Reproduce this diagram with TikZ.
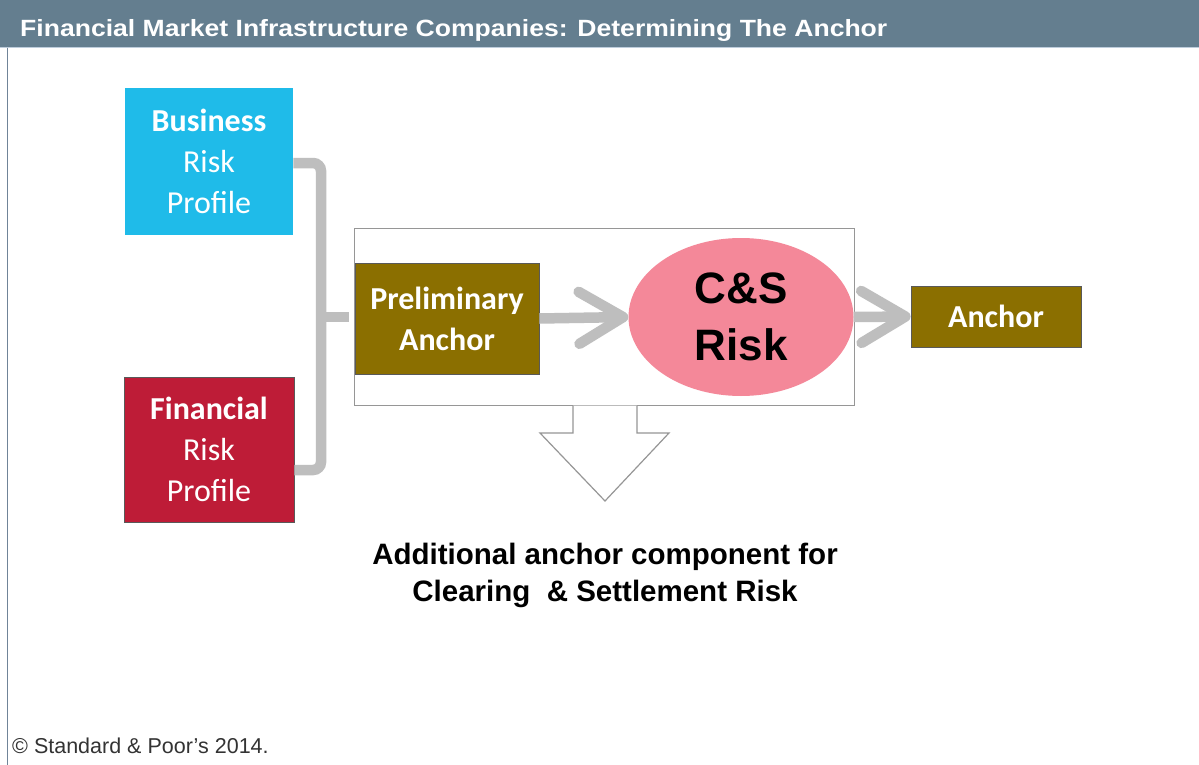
\documentclass[tikz,border=0pt]{standalone}
\usepackage{fontspec}
\setmainfont{Liberation Sans}
\newfontfamily\calib{Carlito}
\newfontfamily\titlefont[FakeStretch=1.13]{Liberation Sans}
\usetikzlibrary{shapes.geometric,arrows.meta}
\definecolor{hdr}{RGB}{100,126,143}
\definecolor{hdrline}{RGB}{190,205,220}
\definecolor{bizc}{RGB}{31,187,233}
\definecolor{finc}{RGB}{190,28,55}
\definecolor{olive}{RGB}{139,111,0}
\definecolor{pinkc}{RGB}{244,136,153}
\definecolor{arrg}{RGB}{190,190,190}
\definecolor{framec}{RGB}{150,150,150}
\definecolor{sidec}{RGB}{112,132,152}
\tikzset{
  box/.style={rectangle, inner sep=0pt, draw=black!65, line width=0.8pt, text=white, align=center,
    font=\calib\fontsize{32}{41}\selectfont},
  flow/.style={draw=arrg, line width=10.5pt, -{Straight Barb[length=44pt,width=52pt,round]}},
  brack/.style={draw=arrg, line width=10.5pt, rounded corners=8pt},
  captext/.style={font=\fontsize{29.5}{37}\selectfont\bfseries, align=center, text=black},
}
\begin{document}
\begin{tikzpicture}[x=1pt,y=-1pt]
\useasboundingbox (0,0) rectangle (1199,765);
\fill[white] (0,0) rectangle (1199,765);
% header
\fill[hdr] (0,0) rectangle (1199,47);
\draw[hdrline, line width=1.2pt] (0,47.5) -- (1199,47.5);
\node[anchor=base west, text=white, font=\titlefont\fontsize{23.5}{28}\selectfont\bfseries, inner sep=0pt] (title) at (20,37) {Financial Market Infrastructure Companies: Determining The Anchor};
\draw[sidec, line width=1.5pt] (7.5,48) -- (7.5,765);
% boxes
\node[box, fill=bizc, minimum width=168pt, minimum height=147pt, draw=none] (biz) at (209,161.5) {\textbf{Business}\\Risk\\Profile};
\node[box, fill=finc, minimum width=170pt, minimum height=145pt] (fin) at (209,449.5) {\textbf{Financial}\\Risk\\Profile};
\node[rectangle, draw=framec, line width=1.2pt, minimum width=500pt, minimum height=177pt, inner sep=0pt] (frame) at (604.5,317) {};
\node[box, fill=olive, minimum width=184pt, minimum height=111pt] (pre) at (447,318.5) {\textbf{Preliminary}\\\textbf{Anchor}};
\node[ellipse, fill=pinkc, minimum width=225pt, minimum height=158pt, inner sep=0pt, align=center,
  font=\fontsize{44}{57}\selectfont\bfseries] (cs) at (741,317) {C\&S\\Risk};
\node[box, fill=olive, minimum width=170pt, minimum height=61pt] (anc) at (996,316.5) {\textbf{Anchor}};
% bracket
\coordinate (bj) at (321,317);
\draw[brack] ([yshift=-1.5pt]biz.east) -- (321,163) -- (321,470) -- ([yshift=-20.5pt]fin.east);
\draw[draw=arrg, line width=10.5pt, shorten >=6pt] (bj) -- (bj-|pre.west);
% flow arrows
\draw[flow] (pre.east) -- (cs.west);
\draw[flow] (cs.east) -- (anc.west);
% down block arrow
\draw[framec, line width=1.2pt, fill=white, line join=miter]
  (573,405.5) -- (573,433) -- (540,433) -- (605,501) -- (669,433) -- (637,433) -- (637,405.5);
% caption
\node[captext] (capt) at (605,575) {Additional anchor component for\\Clearing\ \ \& Settlement Risk};
% copyright
\node[anchor=west, inner sep=0pt, text=black!80, font=\fontsize{21.5}{25}\selectfont] (copy) at (12,746) {\textcopyright{} Standard \& Poor’s 2014.};
\end{tikzpicture}
\end{document}
